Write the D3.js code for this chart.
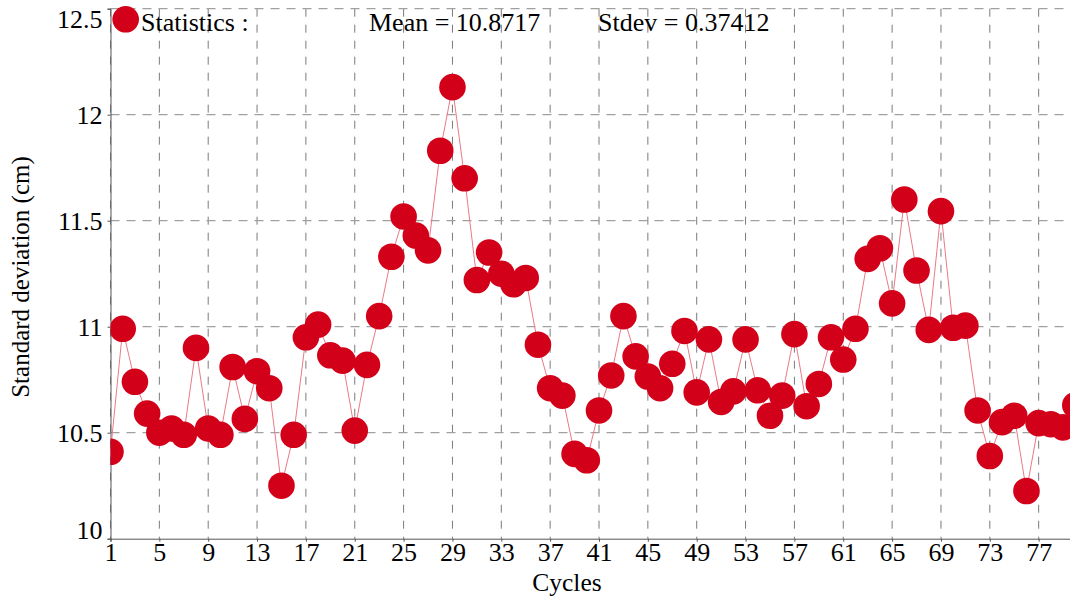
<!DOCTYPE html>
<meta charset="utf-8">

<!-- Load d3.js -->
<script src="https://d3js.org/d3.v7.min.js"></script>

<style>
  body { margin: 0; background: #fff; }
  text { font-family: "Liberation Serif", "DejaVu Serif", serif; fill: #000; }
</style>

<!-- Create an element where the chart will take place -->
<svg id="my_dataviz" width="1070" height="603"></svg>

<script>

// Data
var stdValues = [
  10.41, 10.99, 10.74, 10.59, 10.50, 10.52, 10.49, 10.90, 10.52, 10.49,
  10.81, 10.565, 10.79, 10.71, 10.25, 10.49, 10.95, 11.01, 10.865, 10.84,
  10.51, 10.82, 11.05, 11.33, 11.52, 11.43, 11.36, 11.83, 12.13, 11.70,
  11.22, 11.35, 11.25, 11.20, 11.23, 10.915, 10.71, 10.675, 10.40, 10.37,
  10.605, 10.77, 11.05, 10.86, 10.765, 10.71, 10.825, 10.98, 10.69, 10.94,
  10.645, 10.695, 10.94, 10.70, 10.58, 10.675, 10.965, 10.625, 10.73, 10.95,
  10.845, 10.99, 11.32, 11.37, 11.11, 11.60, 11.265, 10.985, 11.545, 10.995,
  11.005, 10.605, 10.39, 10.55, 10.58, 10.225, 10.545, 10.54, 10.525, 10.63
];
var xTicks = [1, 5, 9, 13, 17, 21, 25, 29, 33, 37, 41, 45, 49, 53, 57, 61, 65, 69, 73, 77];
var yTicks = [10, 10.5, 11, 11.5, 12, 12.5];
var statsLabels = ["Statistics :", "Mean = 10.8717", "Stdev = 0.37412"];

var svg = d3.select("svg");

// plot box (right side runs past the window)
var boxLeft = 110.5, boxTop = 8.7, boxBottom = 538.7, boxRight = 1075.3;

var x = d3.scaleLinear().domain([1, 80]).range([boxLeft, boxRight]);
var y = d3.scaleLinear().domain([10, 12.5]).range([boxBottom, boxTop]);

var red = "#d3001a";

svg.append("clipPath").attr("id", "plotclip")
  .append("rect")
    .attr("x", boxLeft).attr("y", boxTop)
    .attr("width", boxRight - boxLeft).attr("height", boxBottom - boxTop);

// dashed grid
svg.append("g")
  .selectAll("line")
  .data(xTicks)
  .enter()
  .append("line")
    .attr("x1", function(d){ return x(d) })
    .attr("x2", function(d){ return x(d) })
    .attr("y1", boxTop).attr("y2", boxBottom)
    .style("stroke", "#7a7a7a")
    .style("stroke-dasharray", "8,8")
    .style("stroke-width", 1);

svg.append("g")
  .selectAll("line")
  .data(yTicks.slice(1))
  .enter()
  .append("line")
    .attr("x1", boxLeft).attr("x2", 1070)
    .attr("y1", function(d){ return y(d) })
    .attr("y2", function(d){ return y(d) })
    .style("stroke", "#a0a0a0")
    .style("stroke-dasharray", "9,7")
    .style("stroke-width", 1.2);

// axes
var xAxis = svg.append("g")
  .attr("transform", "translate(0," + boxBottom + ")")
  .call(d3.axisBottom(x).tickValues(xTicks).tickSize(3).tickFormat(d3.format("d")));
xAxis.select(".domain").attr("stroke", "#555");
xAxis.selectAll(".tick line").attr("stroke", "#555");
xAxis.selectAll("text")
  .attr("y", 4)
  .attr("dy", "0.71em")
  .style("font-size", "26px")
  .style("font-family", "Liberation Serif");

var yAxis = svg.append("g")
  .attr("transform", "translate(" + boxLeft + ",0)")
  .call(d3.axisLeft(y).tickValues(yTicks).tickSize(3).tickFormat(function(d){ return d3.format("")(d) }));
yAxis.select(".domain").attr("stroke", "#555");
yAxis.selectAll(".tick line").attr("stroke", "#555");
yAxis.selectAll("text")
  .attr("x", -8)
  .style("font-size", "26px")
  .style("font-family", "Liberation Serif")
  .attr("dy", function(d){
    if (d == 12.5) return "0.72em";   // pushed inside the box
    if (d == 10) return "0em";
    return "0.32em";
  });

// the series
var plot = svg.append("g").attr("clip-path", "url(#plotclip)");

plot.append("path")
  .datum(stdValues)
  .attr("d", d3.line()
    .x(function(d, i){ return x(i + 1) })
    .y(function(d){ return y(d) }))
  .style("fill", "none")
  .style("stroke", "#e97a86")
  .style("stroke-width", 1);

plot.selectAll("circle")
  .data(stdValues)
  .enter()
  .append("circle")
    .attr("cx", function(d, i){ return x(i + 1) })
    .attr("cy", function(d){ return y(d) })
    .attr("r", 13.3)
    .style("fill", red);

// statistics legend
svg.append("circle")
  .attr("cx", 125.7).attr("cy", 19.3).attr("r", 13.3)
  .style("fill", red);

var statsX = [141, 369, 598];
svg.selectAll(".stat")
  .data(statsLabels)
  .enter()
  .append("text")
    .attr("class", "stat")
    .attr("x", function(d, i){ return statsX[i] })
    .attr("y", 31)
    .style("font-size", "26px")
    .text(function(d){ return d });

// axis titles
svg.append("text")
  .attr("x", 567).attr("y", 591)
  .attr("text-anchor", "middle")
  .style("font-size", "25.5px")
  .text("Cycles");

svg.append("text")
  .attr("transform", "translate(29,277) rotate(-90)")
  .attr("text-anchor", "middle")
  .style("font-size", "25px")
  .text("Standard deviation (cm)");

</script>
